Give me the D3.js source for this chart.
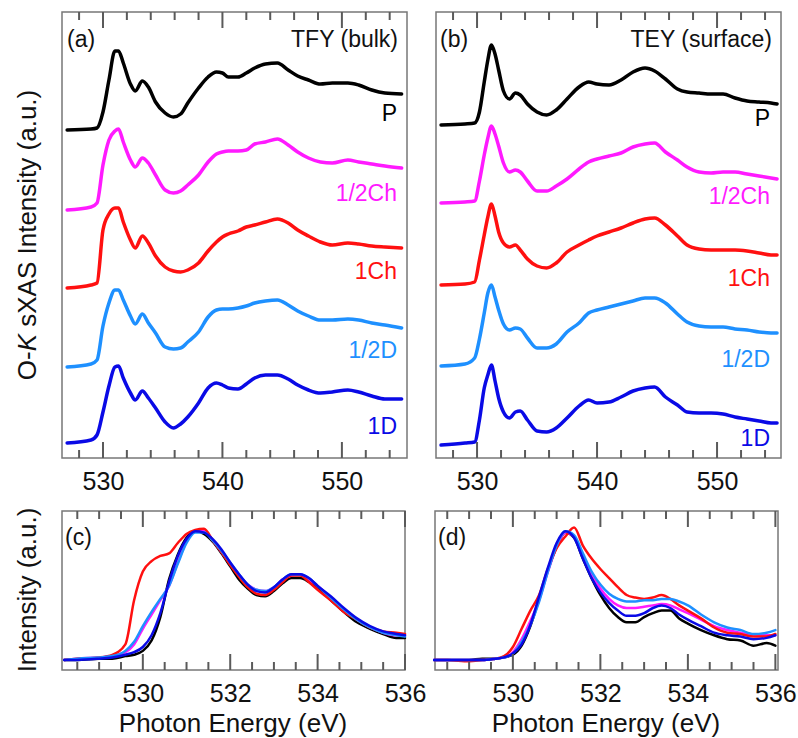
<!DOCTYPE html>
<html>
<head>
<meta charset="utf-8">
<script src="https://cdn.jsdelivr.net/npm/d3@7"></script>
<style>
  body { margin: 0; background: #fff; }
  text { font-family: "Liberation Sans", Arial, sans-serif; }
</style>
</head>
<body>
<div id="chart"></div>
<script>
// ---- data (arbitrary units) ----
var seriesNames = ["P", "1/2Ch", "1Ch", "1/2D", "1D"];
var seriesColors = ["#000000", "#ff1aff", "#ff1010", "#1e90ff", "#0a0ae6"];

// (a) TFY, full range
var energyA = [527, 529, 529.5, 530, 530.5, 531, 531.3, 531.7, 532.3, 532.7, 533.3, 533.8, 534.4, 535.2, 535.9, 536.5, 537.1, 538, 538.8, 539.5, 540, 540.5, 541.3, 542, 542.7, 543.6, 544.6, 545.5, 546.3, 547.2, 548.2, 549.2, 550.5, 551.4, 552.5, 553.6, 555];
var tfyP      = [0,1,2,18,50,79,79,67,46,39,49,43,28,17,13,16,27,42,53,58,57,53,53,57,62,66,67,60,54,50,46,47,47,45,40,37,36];
var tfyHalfCh = [0,3,7,45,70,79,81,68,50,43,52,47,35,20,17,19,25,35,48,56,58,59,59,60,66,68,71,65,58,52,48,47,50,48,46,44,42];
var tfyCh     = [0,3,5,58,74,80,80,66,48,40,52,45,32,21,17,16,18,25,37,46,51,54,57,61,63,66,69,65,58,52,46,43,45,44,42,41,40];
var tfyHalfD  = [0,3,7,41,64,77,77,67,51,43,53,44,34,20,18,19,25,35,50,57,58,58,59,61,64,66,67,62,56,51,47,47,48,47,44,42,39];
var tfyD      = [0,3,8,31,57,76,77,65,50,43,52,45,35,21,15,19,26,40,55,60,58,55,54,59,65,68,68,64,58,53,50,51,53,51,47,44,44];
var offsetsA = [328, 248, 170, 91, 15];

// (b) TEY, full range
var energyB = [527, 529, 529.8, 530.2, 530.6, 530.9, 531.2, 531.5, 531.8, 532.2, 532.7, 533.2, 533.6, 534.2, 535, 535.8, 536.6, 537.5, 538.5, 539.3, 540, 541, 542, 543, 544, 544.8, 545.7, 546.7, 547.5, 548.5, 549.5, 550.5, 551.5, 552.5, 553.5, 554.5, 555];
var teyP      = [0,1,2,13,43,65,80,71,55,34,26,32,30,21,13,10,15,26,38,43,41,40,45,53,57,54,46,36,33,32,31,31,27,24,23,22,21];
var teyHalfCh = [0,1,2,22,48,65,77,69,57,40,31,33,31,22,12,12,17,24,34,41,44,47,50,56,59,60,51,43,36,31,30,31,31,29,27,25,24];
var teyCh     = [0,1,3,25,50,68,81,69,53,42,38,40,35,26,19,17,22,33,40,45,49,53,57,62,66,67,60,49,40,36,35,35,35,34,32,30,30];
var teyHalfD  = [0,2,8,27,53,73,81,69,56,42,36,38,37,28,18,18,22,34,43,53,56,59,62,65,68,68,63,52,44,40,39,39,37,36,34,33,33];
var teyD      = [0,2,3,25,57,70,80,64,47,33,27,33,34,25,14,13,17,27,39,45,42,43,48,54,57,58,48,40,33,32,32,31,28,26,24,22,22];
var offsetsB = [333, 255, 173, 92, 13];

// (c), (d) edge region, normalised
var energyZoom = [528.2, 528.5, 529, 529.3, 529.6, 529.8, 530, 530.2, 530.4, 530.6, 530.8, 531, 531.2, 531.4, 531.6, 531.8, 532, 532.2, 532.4, 532.6, 532.8, 533, 533.2, 533.4, 533.6, 533.8, 534, 534.3, 534.6, 534.9, 535.2, 535.5, 535.8, 536];
var tfyZoomP      = [0,0,0.01,0.01,0.03,0.04,0.07,0.15,0.33,0.62,0.81,0.94,0.99,0.97,0.91,0.82,0.72,0.62,0.55,0.50,0.49,0.53,0.59,0.63,0.63,0.60,0.55,0.46,0.37,0.29,0.24,0.20,0.17,0.17];
var tfyZoomHalfCh = [0,0.01,0.02,0.03,0.06,0.12,0.24,0.35,0.46,0.57,0.75,0.91,0.99,0.99,0.92,0.83,0.74,0.65,0.58,0.54,0.53,0.56,0.62,0.65,0.66,0.62,0.57,0.48,0.39,0.31,0.25,0.21,0.19,0.19];
var tfyZoomCh     = [0,0.01,0.02,0.04,0.12,0.46,0.68,0.76,0.80,0.82,0.90,0.97,1.00,1.01,0.92,0.83,0.73,0.64,0.56,0.51,0.50,0.54,0.60,0.65,0.65,0.60,0.54,0.46,0.37,0.31,0.25,0.22,0.21,0.20];
var tfyZoomHalfD  = [0,0.01,0.02,0.03,0.07,0.14,0.26,0.37,0.47,0.57,0.74,0.90,0.98,0.98,0.92,0.84,0.75,0.66,0.58,0.54,0.53,0.56,0.62,0.66,0.66,0.63,0.57,0.48,0.39,0.31,0.25,0.21,0.19,0.18];
var tfyZoomD      = [0,0,0.01,0.02,0.04,0.06,0.10,0.19,0.36,0.60,0.80,0.93,0.99,0.98,0.93,0.85,0.75,0.66,0.58,0.53,0.52,0.56,0.62,0.66,0.66,0.63,0.57,0.49,0.40,0.32,0.26,0.22,0.20,0.19];

var teyZoomP      = [0,0,0,0.01,0.01,0.02,0.04,0.11,0.26,0.47,0.69,0.87,0.98,0.94,0.78,0.63,0.50,0.40,0.33,0.29,0.29,0.33,0.36,0.38,0.38,0.32,0.28,0.23,0.19,0.16,0.15,0.11,0.13,0.11];
var teyZoomHalfCh = [0,0,0,0,0.01,0.02,0.06,0.16,0.30,0.46,0.68,0.87,0.98,0.95,0.80,0.66,0.55,0.47,0.42,0.40,0.40,0.41,0.42,0.43,0.42,0.39,0.36,0.31,0.26,0.23,0.21,0.19,0.19,0.19];
var teyZoomCh     = [0,0,-0.01,0,0.01,0.03,0.10,0.24,0.38,0.50,0.70,0.86,0.95,1.02,0.88,0.78,0.70,0.63,0.56,0.50,0.48,0.47,0.48,0.50,0.47,0.42,0.38,0.32,0.25,0.21,0.20,0.18,0.18,0.20];
var teyZoomHalfD  = [0,0,0,0,0.01,0.02,0.05,0.14,0.27,0.45,0.68,0.88,0.99,0.96,0.82,0.68,0.58,0.51,0.47,0.45,0.45,0.46,0.46,0.47,0.47,0.45,0.42,0.35,0.29,0.25,0.23,0.20,0.21,0.23];
var teyZoomD      = [0,0,0,0,0.01,0.02,0.05,0.12,0.27,0.49,0.71,0.90,0.99,0.94,0.78,0.63,0.52,0.44,0.38,0.34,0.34,0.36,0.40,0.42,0.40,0.35,0.31,0.26,0.21,0.19,0.18,0.16,0.17,0.19];

var topMajor = [530, 540, 550];
var topMinor = [528, 532, 534, 536, 538, 542, 544, 546, 548, 552, 554];
var zoomMajor = [530, 532, 534, 536];
var zoomMinor = [528.5, 529, 529.5, 530.5, 531, 531.5, 532.5, 533, 533.5, 534.5, 535, 535.5];

// ---- drawing ----
var svg = d3.select("#chart")
  .append("svg")
    .attr("width", 798)
    .attr("height", 738);

var frameColor = "#777777";
var tickColor = "#5a5a5a";

function drawPanel(p) {
  var x = d3.scaleLinear().domain(p.xDomain).range([p.left, p.right]);
  var y = d3.scaleLinear().domain(p.yDomain).range([p.bottom, p.top]);
  var g = svg.append("g");

  // tick labels
  var ax = g.append("g")
      .attr("transform", "translate(0," + p.bottom + ")")
      .call(d3.axisBottom(x).tickValues(p.major).tickSize(0).tickPadding(14).tickFormat(d3.format("d")));
  ax.attr("font-size", 25).attr("font-family", '"Liberation Sans", Arial, sans-serif');
  ax.selectAll("text").attr("fill", "#111");
  ax.select(".domain").remove();

  g.append("rect")
      .attr("x", p.left)
      .attr("y", p.top)
      .attr("width", p.right - p.left)
      .attr("height", p.bottom - p.top)
      .attr("fill", "none")
      .attr("stroke", frameColor)
      .attr("stroke-width", 1.5);

  return { x: x, y: y, g: g, p: p };
}

// inward ticks on the top and bottom edges, drawn last so nothing hides them
function drawTicks(pan) {
  var p = pan.p;
  var ticks = [];
  p.minor.forEach(function(v) { ticks.push({v: v, len: 8, edge: p.bottom, dir: -1}); ticks.push({v: v, len: 8, edge: p.top, dir: 1}); });
  p.major.forEach(function(v) { ticks.push({v: v, len: 16, edge: p.bottom, dir: -1}); ticks.push({v: v, len: 16, edge: p.top, dir: 1}); });
  svg.append("g")
    .selectAll("line")
    .data(ticks)
    .join("line")
      .attr("x1", function(d) { return pan.x(d.v); })
      .attr("x2", function(d) { return pan.x(d.v); })
      .attr("y1", function(d) { return d.edge; })
      .attr("y2", function(d) { return d.edge + d.dir * d.len; })
      .style("stroke", tickColor)
      .style("stroke-width", "2px");
}

function drawCurves(pan, energy, series, offsets, width) {
  series.forEach(function(vals, i) {
    var off = offsets ? offsets[i] : 0;
    var line = d3.line()
        .x(function(d, j) { return pan.x(energy[j]); })
        .y(function(d) { return pan.y(d + off); })
        .curve(d3.curveMonotoneX);
    pan.g.append("path")
        .datum(vals)
        .attr("d", line)
        .attr("fill", "none")
        .attr("stroke", seriesColors[i])
        .attr("stroke-width", width)
        .attr("stroke-linejoin", "round")
        .attr("stroke-linecap", "round");
  });
}

function addText(g, x, y, str, size, anchor, color) {
  return g.append("text")
      .attr("x", x)
      .attr("y", y)
      .attr("font-size", size)
      .attr("text-anchor", anchor || "start")
      .attr("fill", color || "#111")
      .text(str);
}

// top panels
var panA = drawPanel({left: 62, right: 407, top: 12, bottom: 458,
  xDomain: [526.57, 555.45], yDomain: [0, 446], major: topMajor, minor: topMinor});
drawCurves(panA, energyA, [tfyP, tfyHalfCh, tfyCh, tfyHalfD, tfyD], offsetsA, 3.5);

var panB = drawPanel({left: 436, right: 781, top: 12, bottom: 458,
  xDomain: [526.58, 555.33], yDomain: [0, 446], major: topMajor, minor: topMinor});
drawCurves(panB, energyB, [teyP, teyHalfCh, teyCh, teyHalfD, teyD], offsetsB, 3.5);

seriesNames.forEach(function(name, i) {
  addText(panA.g, 397, panA.y(offsetsA[i]) - 9, name, 23, "end", seriesColors[i]);
  addText(panB.g, 770, panB.y(offsetsB[i]) + 1, name, 23, "end", seriesColors[i]);
});

addText(panA.g, 67, 47, "(a)", 23);
addText(panA.g, 398, 47, "TFY (bulk)", 23, "end");
addText(panB.g, 440, 47, "(b)", 23);
addText(panB.g, 772, 47, "TEY (surface)", 23, "end");

// bottom panels (drawn in order black, magenta, red, light blue, blue)
var panC = drawPanel({left: 62, right: 405, top: 511, bottom: 670,
  xDomain: [528.15, 536.0], yDomain: [-0.077, 1.146], major: zoomMajor, minor: zoomMinor});
drawCurves(panC, energyZoom, [tfyZoomP, tfyZoomHalfCh, tfyZoomCh, tfyZoomHalfD, tfyZoomD], null, 2.5);

var panD = drawPanel({left: 435, right: 778, top: 511, bottom: 670,
  xDomain: [528.22, 536.06], yDomain: [-0.077, 1.146], major: zoomMajor, minor: zoomMinor});
drawCurves(panD, energyZoom, [teyZoomP, teyZoomHalfCh, teyZoomCh, teyZoomHalfD, teyZoomD], null, 2.5);

[panA, panB, panC, panD].forEach(drawTicks);

addText(panC.g, 65, 545, "(c)", 23);
addText(panD.g, 438, 545, "(d)", 23);

addText(svg, 233, 732, "Photon Energy (eV)", 26, "middle");
addText(svg, 606, 732, "Photon Energy (eV)", 26, "middle");

// y titles
var yt = svg.append("text")
    .attr("transform", "translate(36,235) rotate(-90)")
    .attr("text-anchor", "middle")
    .attr("font-size", 26)
    .attr("fill", "#111");
yt.append("tspan").text("O-");
yt.append("tspan").attr("font-style", "italic").text("K");
yt.append("tspan").text(" sXAS Intensity (a.u.)");

svg.append("text")
    .attr("transform", "translate(36,590) rotate(-90)")
    .attr("text-anchor", "middle")
    .attr("font-size", 26)
    .attr("fill", "#111")
    .text("Intensity (a.u.)");
</script>
</body>
</html>
